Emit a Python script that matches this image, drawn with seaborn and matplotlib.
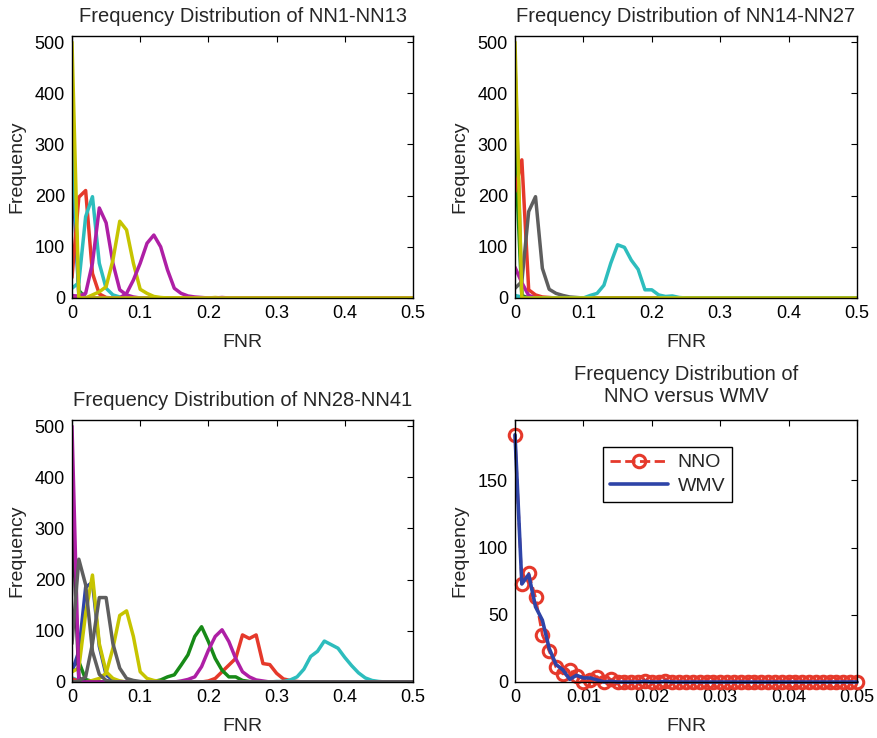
import numpy as np
import pandas as pd
import matplotlib
matplotlib.use("Agg")
import matplotlib.pyplot as plt
import seaborn as sns

sns.set_style("white")
plt.rcParams['font.family'] = ['Liberation Sans', 'DejaVu Sans']

# ---------------- data ----------------
# Bin grid for panels 1-3 (FNR 0..0.5, bin 0.01)
FNR_BINS = [round(0.01 * i, 2) for i in range(51)]
# Bin grid for panel 4 (FNR 0..0.05, bin 0.001)
FNR_FINE = [round(0.001 * i, 3) for i in range(51)]

# Each curve: (start FNR, frequencies from that bin on; zero elsewhere)
# Panel 1: NN1-NN13
p1_green_spike = (0.00, [350, 15])
p1_blue_spike = (0.00, [260, 5])
p1_cyan_spike = (0.00, [330, 10])
p1_magenta_low = (0.00, [5, 3, 1])
p1_red = (0.00, [40, 197, 210, 48, 8, 1])
p1_cyan = (0.00, [19, 30, 159, 198, 68, 19, 6, 2])
p1_magenta_a = (0.00, [2, 4, 9, 68, 176, 147, 68, 16, 6, 2])
p1_yellow_b = (0.03, [6, 12, 22, 74, 150, 133, 68, 17, 9, 3, 1, 0, 0, 0, 0, 0, 0, 0, 1])
p1_magenta_b = (0.08, [9, 35, 68, 107, 123, 100, 55, 19, 9, 4, 2, 1, 0, 0, 1])
p1_yellow_spike = (0.00, [500, 0])

# Panel 2: NN14-NN27
p2_cyan_low = (0.00, [5, 2])
p2_green_spike = (0.00, [460, 5])
p2_blue_spike = (0.00, [300, 3])
p2_magenta_low = (0.00, [60, 30, 5, 1])
p2_red = (0.00, [208, 270, 16, 6, 2, 1])
p2_gray = (0.00, [19, 32, 169, 198, 58, 17, 9, 5, 2, 1])
p2_cyan = (0.11, [5, 9, 25, 68, 104, 99, 74, 56, 16, 16, 6, 3, 4, 1])
p2_yellow_spike = (0.00, [500, 0])

# Panel 3: NN28-NN41
p3_red = (0.20, [2, 7, 20, 33, 46, 92, 85, 92, 36, 34, 17, 6, 3, 1])
p3_cyan = (0.30, [1, 1, 4, 10, 25, 50, 60, 80, 73, 66, 48, 32, 18, 8, 3, 1])
p3_green_b = (0.12, [1, 4, 10, 14, 33, 53, 89, 108, 79, 46, 23, 10, 10, 3, 1])
p3_magenta_b = (0.16, [2, 5, 10, 30, 62, 89, 102, 79, 46, 20, 10, 4, 2])
p3_cyan_low = (0.00, [8, 3, 1])
p3_red_low = (0.00, [6, 2])
p3_green_a = (0.00, [30, 40, 5, 1])
p3_blue = (0.00, [20, 60, 185, 195, 70, 14, 4, 1])
p3_yellow_a = (0.00, [20, 27, 134, 209, 75, 20, 7, 2])
p3_yellow_b = (0.03, [3, 7, 17, 66, 130, 139, 89, 20, 7, 3, 1])
p3_dark_spike = (0.00, [340, 8])
p3_magenta_spike = (0.00, [500, 0])
p3_gray_a = (0.00, [75, 240, 190, 60, 15, 3, 1])
p3_gray_b = (0.01, [2, 10, 75, 165, 165, 75, 27, 7, 3, 1])

# Panel 4: NNO versus WMV
nno_freq = [184, 73, 81, 63, 35, 23, 11, 6, 9, 4.5, 0, 1.5, 4, 0, 2, 0, 0, 0, 0, 1,
            0, 0, 1, 0, 0, 0, 0, 0, 0, 0, 0, 0, 0, 0, 0, 0, 0, 0, 0, 0,
            0, 0, 0, 0, 0, 0, 0, 0, 0, 0, 0]
wmv_freq = [184, 73, 80, 56, 46, 25, 13, 9, 2, 5, 3, 3, 1.5, 0, 0.5, 0, 0, 0, 0, 0.5,
            0, 0, 0.5, 0, 0, 0, 0, 0, 0, 0, 0, 0, 0, 0, 0, 0, 0, 0, 0, 0,
            0, 0, 0, 0, 0, 0, 0, 0, 0, 0, 0]

# ---------------- colours ----------------
RED = '#E5392B'
CYAN = '#2DBDBD'
MAGENTA = '#AE1FA5'
YELLOW = '#C6C400'
GREEN = '#178A17'
GRAY = '#5E5E5E'
BLUE = '#2E44A8'
DARK = '#2A2A2A'

panel1 = [(p1_green_spike, GREEN), (p1_blue_spike, BLUE), (p1_cyan_spike, CYAN),
          (p1_magenta_low, MAGENTA), (p1_red, RED), (p1_cyan, CYAN),
          (p1_magenta_a, MAGENTA), (p1_yellow_b, YELLOW), (p1_magenta_b, MAGENTA),
          (p1_yellow_spike, YELLOW)]
panel2 = [(p2_cyan_low, CYAN), (p2_green_spike, GRAY), (p2_blue_spike, GREEN),
          (p2_magenta_low, MAGENTA), (p2_red, RED), (p2_gray, GRAY),
          (p2_cyan, CYAN), (p2_yellow_spike, YELLOW)]
panel3 = [(p3_red, RED), (p3_cyan, CYAN), (p3_green_b, GREEN), (p3_magenta_b, MAGENTA),
          (p3_cyan_low, CYAN), (p3_red_low, RED), (p3_green_a, GREEN), (p3_blue, BLUE),
          (p3_yellow_a, YELLOW), (p3_yellow_b, YELLOW), (p3_dark_spike, DARK),
          (p3_magenta_spike, MAGENTA), (p3_gray_a, GRAY), (p3_gray_b, GRAY)]


def curve_frame(curves):
    rows = []
    n = len(FNR_BINS)
    for k, ((start, vals), _) in enumerate(curves):
        i0 = int(round(start / 0.01))
        y = [0.0] * n
        for j, v in enumerate(vals):
            if i0 + j < n:
                y[i0 + j] = v
        for x, v in zip(FNR_BINS, y):
            rows.append({'FNR': x, 'Frequency': v, 'net': k})
    return pd.DataFrame(rows)


fig = plt.figure(figsize=(8.77, 7.38), dpi=100)
W, H = 877, 738
def pos(l, r, t, b):
    return [l / W, 1 - b / H, (r - l) / W, (b - t) / H]

ax1 = fig.add_axes(pos(72, 413, 36, 298))
ax2 = fig.add_axes(pos(515, 857, 36, 298))
ax3 = fig.add_axes(pos(72, 413, 420, 682))
ax4 = fig.add_axes(pos(515, 857, 420, 682))

TICK_FS = 13
LAB_FS = 14
TITLE_FS = 14.5


def style(ax):
    for s in ax.spines.values():
        s.set_visible(True)
        s.set_color('black')
        s.set_linewidth(1.0)
    ax.tick_params(direction='in', length=4, width=0.8, top=True, right=True,
                   labelsize=TICK_FS, colors='black', pad=5)
    ax.set_xlabel('FNR', fontsize=LAB_FS, labelpad=9)
    ax.set_ylabel('Frequency', fontsize=LAB_FS, labelpad=7)


for ax, curves, title in [(ax1, panel1, 'Frequency Distribution of NN1-NN13'),
                          (ax2, panel2, 'Frequency Distribution of NN14-NN27'),
                          (ax3, panel3, 'Frequency Distribution of NN28-NN41')]:
    df = curve_frame(curves)
    pal = {k: c for k, (_, c) in enumerate(curves)}
    sns.lineplot(data=df, x='FNR', y='Frequency', hue='net', palette=pal,
                 legend=False, linewidth=2.5, ax=ax, estimator=None, sort=False)
    ax.set_xlim(0, 0.5)
    ax.set_ylim(0, 512)
    ax.set_xticks([0, 0.1, 0.2, 0.3, 0.4, 0.5])
    ax.set_xticklabels(['0', '0.1', '0.2', '0.3', '0.4', '0.5'])
    ax.set_yticks([0, 100, 200, 300, 400, 500])
    ax.set_title(title, fontsize=TITLE_FS, pad=10)
    style(ax)

# Panel 4
df4 = pd.DataFrame({'FNR': FNR_FINE * 2,
                    'Frequency': nno_freq + wmv_freq,
                    'method': ['NNO'] * len(FNR_FINE) + ['WMV'] * len(FNR_FINE)})
sns.lineplot(data=df4[df4.method == 'NNO'], x='FNR', y='Frequency', ax=ax4,
             color=RED, linestyle='--', linewidth=2.0, marker='o', markersize=9,
             markerfacecolor='none', markeredgecolor=RED, markeredgewidth=2.2,
             label='NNO', estimator=None, clip_on=False)
sns.lineplot(data=df4[df4.method == 'WMV'], x='FNR', y='Frequency', ax=ax4,
             color=BLUE, linewidth=2.6, label='WMV', estimator=None, clip_on=False)
ax4.set_xlim(0, 0.05)
ax4.set_ylim(0, 195)
ax4.set_xticks([0, 0.01, 0.02, 0.03, 0.04, 0.05])
ax4.set_xticklabels(['0', '0.01', '0.02', '0.03', '0.04', '0.05'])
ax4.set_yticks([0, 50, 100, 150])
ax4.set_title('Frequency Distribution of\nNNO versus WMV', fontsize=TITLE_FS, pad=13,
              linespacing=1.2)
style(ax4)
leg = ax4.legend(loc='upper left', bbox_to_anchor=(0.257, 0.897), fontsize=LAB_FS,
                 frameon=True, fancybox=False, edgecolor='black', framealpha=1,
                 handlelength=3.0, borderpad=0.35, labelspacing=0.3,
                 borderaxespad=0, handletextpad=0.5)
leg.get_frame().set_linewidth(1.0)

fig.savefig('out.png', dpi=100)
